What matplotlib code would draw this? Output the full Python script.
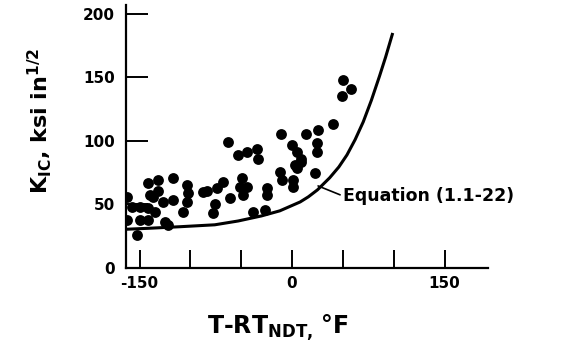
import matplotlib
matplotlib.use('Agg')
import matplotlib.pyplot as plt
import matplotlib.ticker as ticker
import numpy as np

# data points (T - RT_NDT in degF, K_IC in ksi in^1/2)
temp_pts = [50, 58, 49, 40, 26, 14, -11, 25, 25, 23, -63, -53, -44, -34, -33,
            0, 5, 9, 5, -12, -10, 1, 1, 3, 9,
            -162, -162, -152, -142, -132, -117, -103, -102, -103, -107, -88,
            -74, -68, -76, -78, -61, -49, -51, -44, -48, -38, -27, -25, -25,
            -140, -127, -117, -150, -142, -135, -150, -142, -125, -122, -157,
            -132, -137, -84]
kic_pts = [148, 141, 135, 113, 109, 105.5, 105.5, 98, 91, 75, 99, 89, 91, 94, 86,
           97, 91, 83.5, 79, 75.5, 69, 69, 64, 81, 86,
           56, 38, 26, 67, 69, 71, 65, 59, 52, 44, 60,
           63, 68, 50, 43, 55, 71, 64, 64, 57.5, 44, 46, 63, 57.5,
           57.5, 52, 53.5, 48, 47, 44, 38, 38, 36, 34, 48,
           61, 56, 61]

# lower bound curve, Equation (1.1-22)
curve_t = [-163, -140, -110, -76, -53, -30, -12, -2, 8, 16, 25, 37, 46, 54,
           62, 70, 78, 86, 92, 99]
curve_k = [30.5, 31.3, 32.5, 34, 37, 41, 45, 48.5, 52, 56, 61.5, 71, 79.5, 89,
           101, 115, 132, 151, 166, 185]

x_ticks = [-150, -100, -50, 0, 50, 100, 150]
x_labels = ['-150', '', '', '0', '', '', '150']
y_ticks = [0, 50, 100, 150, 200]

plt.rcParams['font.family'] = 'DejaVu Sans'
plt.rcParams['font.weight'] = 'bold'
plt.rcParams['mathtext.fontset'] = 'dejavusans'
plt.rcParams['mathtext.default'] = 'bf'

fig = plt.figure(figsize=(5.8, 3.58), dpi=100)
ax = fig.add_axes([0.2172, 0.2514, 0.6242, 0.7346])

ax.plot(curve_t, curve_k, color='black', lw=2.2, solid_capstyle='butt')
ax.plot(temp_pts, kic_pts, 'o', color='black', ms=7.8, mew=0)

ax.set_xlim(-163.3, 192.7)
ax.set_ylim(0, 207)

ax.set_xticks(x_ticks)
ax.set_xticklabels(x_labels)
ax.set_yticks(y_ticks)

for side in ['top', 'right']:
    ax.spines[side].set_visible(False)
for side in ['left', 'bottom']:
    ax.spines[side].set_linewidth(1.6)

ax.tick_params(axis='x', direction='in', length=13, width=1.4, pad=6,
               labelsize=11)
ax.tick_params(axis='y', direction='in', length=16, width=1.4, pad=8,
               labelsize=11)

ax.set_ylabel(r'K$_{IC}$, ksi in$^{1/2}$', fontsize=16, fontweight='bold')
ax.yaxis.set_label_coords(-0.20, 0.56)
ax.set_xlabel(r'T-RT$_{NDT,}$ $\!$°F', fontsize=17, fontweight='bold')
ax.xaxis.set_label_coords(0.42, -0.17)

ax.annotate('Equation (1.1-22)', xy=(25.6, 64.6), xytext=(50, 56.7),
            ha='left', va='center', fontsize=12.5, fontweight='bold',
            arrowprops=dict(arrowstyle='-', color='black', lw=1.2,
                            shrinkA=0, shrinkB=0, relpos=(0, 0.5)))

fig.savefig('out.png', dpi=100)
